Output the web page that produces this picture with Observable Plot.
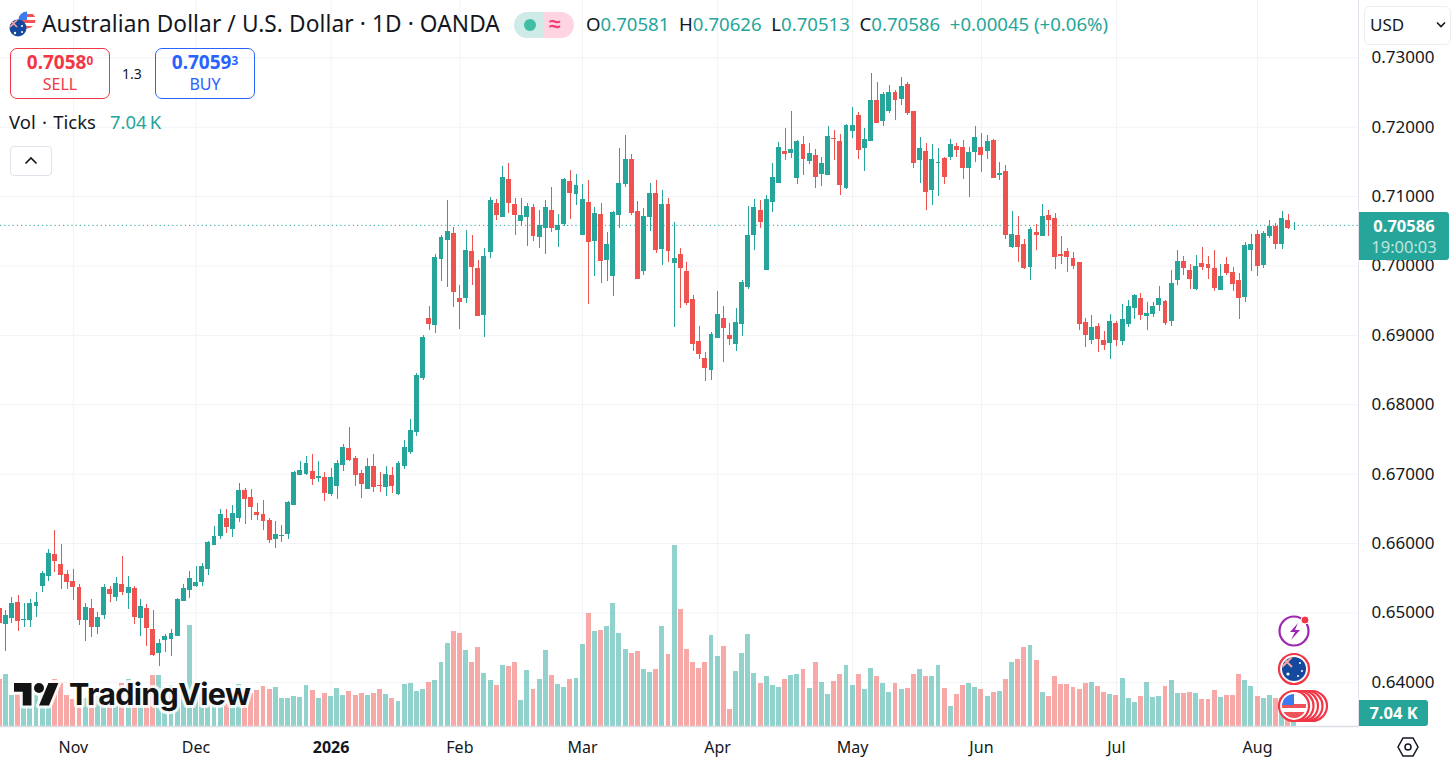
<!DOCTYPE html>
<html>
<head>
<meta charset="utf-8">
<script src="https://cdn.jsdelivr.net/npm/d3@7"></script>
<script src="https://cdn.jsdelivr.net/npm/@observablehq/plot@0.6"></script>
<style>
html,body{margin:0;padding:0;background:#fff;overflow:hidden;width:1454px;height:764px}
body{font-family:"Noto Sans",sans-serif;color:#131722;position:relative}
#chart{position:absolute;left:0;top:0}
#chart svg{display:block;max-width:none}
.a{position:absolute;white-space:nowrap;line-height:1}
.up{color:#26a69a}
sup{font-size:.62em;line-height:0;vertical-align:baseline;position:relative;top:-.35em}
</style>
</head>
<body>
<div id="chart"></div>

<svg class="a" style="left:9px;top:10px" width="28" height="28" viewBox="0 0 28 28">
  <defs><clipPath id="c1"><circle cx="18" cy="10" r="8.5"/></clipPath><clipPath id="c2"><circle cx="9" cy="18" r="8.5"/></clipPath></defs>
  <g clip-path="url(#c1)"><rect x="9" y="1" width="18" height="18" fill="#fff"/><rect x="9" y="4" width="18" height="3" fill="#f0525a"/><rect x="9" y="10" width="18" height="3" fill="#f0525a"/><rect x="9" y="16" width="18" height="3" fill="#f0525a"/><rect x="9" y="1" width="9" height="9" fill="#3a7bf0"/></g>
  <g clip-path="url(#c2)"><rect x="0" y="9" width="18" height="18" fill="#14499e"/><path d="M1 10l7 7M8 10l-7 7" stroke="#f6a5a5" stroke-width="1.6"/><circle cx="13" cy="16" r="1" fill="#fff"/><circle cx="6" cy="23" r="1.2" fill="#fff"/><circle cx="13" cy="22" r="1" fill="#fff"/></g>
</svg>
<div class="a" style="left:42px;top:13px;font-size:22.7px;letter-spacing:.1px">Australian Dollar / U.S. Dollar · 1D · OANDA</div>

<div class="a" style="left:514px;top:12px;width:30px;height:26px;background:#ceebe8;border-radius:13px 0 0 13px"></div>
<div class="a" style="left:544px;top:12px;width:30px;height:26px;background:#ffd5e2;border-radius:0 13px 13px 0"></div>
<div class="a" style="left:524px;top:19px;width:12px;height:12px;border-radius:6px;background:#3ebfa5"></div>
<div class="a" style="left:549px;top:13px;font-size:21px;color:#f23d7a;font-weight:700">≈</div>

<div class="a" style="left:586px;top:15px;font-size:18.6px" id="ohlc"></div>

<div class="a" style="left:10px;top:48px;width:98px;height:49px;border:1px solid #f23645;border-radius:7px;text-align:center;color:#f23645">
  <div style="font-size:19px;font-weight:700;margin-top:4px">0.7058<sup>0</sup></div>
  <div style="font-size:16px;margin-top:4px">SELL</div>
</div>
<div class="a" style="left:122px;top:67px;font-size:14px">1.3</div>
<div class="a" style="left:155px;top:48px;width:98px;height:49px;border:1px solid #2962ff;border-radius:7px;text-align:center;color:#2962ff">
  <div style="font-size:19px;font-weight:700;margin-top:4px">0.7059<sup>3</sup></div>
  <div style="font-size:16px;margin-top:4px">BUY</div>
</div>

<div class="a" style="left:9px;top:113px;font-size:18.5px;word-spacing:1.5px">Vol · Ticks</div>
<div class="a up" style="left:110px;top:113px;font-size:18.5px">7.04&#8201;K</div>

<div class="a" style="left:10px;top:146px;width:40px;height:28px;border:1px solid #e0e3eb;border-radius:4px"></div>
<svg class="a" style="left:24px;top:156px" width="14" height="9" viewBox="0 0 14 9"><path d="M1.5 7.5L7 2l5.5 5.5" fill="none" stroke="#131722" stroke-width="1.7"/></svg>

<div class="a" style="left:1364px;top:6px;width:85px;height:37px;border:1px solid #eceef3;border-radius:6px;background:#fff"></div>
<div class="a" style="left:1370px;top:16px;font-size:17px">USD</div>
<svg class="a" style="left:1436px;top:21px" width="10" height="7" viewBox="0 0 10 7"><path d="M1 1.5l4 4 4-4" fill="none" stroke="#131722" stroke-width="1.6"/></svg>

<div class="a" style="left:1359px;top:212px;width:90px;height:48px;background:#26a69a;border-radius:0 3px 3px 0;text-align:center;color:#fff">
  <div style="font-size:16.5px;font-weight:700;margin-top:6px">0.70586</div>
  <div style="font-size:16.5px;margin-top:4px;color:#bfe5e0">19:00:03</div>
</div>
<div class="a" style="left:1359px;top:700px;width:69px;height:26px;background:#26a69a;border-radius:0 3px 3px 0;text-align:center;color:#fff;font-size:16.5px;font-weight:700;line-height:26px">7.04 K</div>

<svg class="a" style="left:1396px;top:736px" width="24" height="22" viewBox="0 0 24 22"><path d="M7 2h10l5 9-5 9H7L2 11z" fill="none" stroke="#131722" stroke-width="1.5"/><circle cx="12" cy="11" r="3" fill="none" stroke="#131722" stroke-width="1.5"/></svg>

<svg class="a" style="left:0;top:670px;pointer-events:none" width="262" height="50" viewBox="0 0 262 50">
  <g stroke="#fff" stroke-opacity=".85" stroke-width="6" stroke-linejoin="round" fill="#fff">
    <path d="M31.5 35.5h-8.75V21.75H14V13h17.5zM49 35.5H39l9.4-22.5h10L49 35.5z"/><circle cx="39" cy="18" r="5"/>
    <text x="69" y="35" font-family="Inter,Roboto,sans-serif" font-size="30.5" font-weight="700" letter-spacing="-.7">TradingView</text>
  </g>
  <g fill="#131313">
    <path d="M31.5 35.5h-8.75V21.75H14V13h17.5zM49 35.5H39l9.4-22.5h10L49 35.5z"/><circle cx="39" cy="18" r="5"/>
    <text x="69" y="35" font-family="Inter,Roboto,sans-serif" font-size="30.5" font-weight="700" letter-spacing="-.7">TradingView</text>
  </g>
</svg>

<svg class="a" style="left:1276px;top:611px" width="56" height="113" viewBox="0 0 56 113">
  <circle cx="18" cy="20" r="14.5" fill="#fff" stroke="#9c27b0" stroke-width="2.2"/>
  <path d="M22 12l-8 9h5l-4 8 9-10h-5l3-7z" fill="#9c27b0"/>
  <circle cx="29" cy="9" r="4" fill="#f23645" stroke="#fff" stroke-width="1"/>
  <defs><clipPath id="c3"><circle cx="18" cy="58" r="12"/></clipPath><clipPath id="c4"><circle cx="18" cy="95" r="12"/></clipPath></defs>
  <circle cx="18" cy="58" r="15" fill="#fff" stroke="#f23645" stroke-width="2.2"/>
  <g clip-path="url(#c3)"><rect x="6" y="46" width="24" height="24" fill="#14499e"/><path d="M6 46l10 10M16 46L6 56" stroke="#f6a5a5" stroke-width="2"/><circle cx="24" cy="52" r="1" fill="#fff"/><circle cx="26" cy="60" r="1" fill="#fff"/><circle cx="22" cy="65" r="1" fill="#fff"/><circle cx="12" cy="63" r="1.6" fill="#fff"/></g>
  <circle cx="36" cy="95" r="15" fill="#fff" stroke="#f23645" stroke-width="2.2"/>
  <circle cx="31.5" cy="95" r="15" fill="#fff" stroke="#f23645" stroke-width="2.2"/>
  <circle cx="27" cy="95" r="15" fill="#fff" stroke="#f23645" stroke-width="2.2"/>
  <circle cx="22.5" cy="95" r="15" fill="#fff" stroke="#f23645" stroke-width="2.2"/>
  <circle cx="18" cy="95" r="15" fill="#fff" stroke="#f23645" stroke-width="2.2"/>
  <g clip-path="url(#c4)"><rect x="6" y="83" width="24" height="24" fill="#fff"/><rect x="6" y="93" width="24" height="4" fill="#f0525a"/><rect x="6" y="101" width="24" height="6" fill="#f0525a"/><rect x="6" y="83" width="12" height="11" fill="#3a7bf0"/></g>
</svg>

<script>
const opens = [
.65061,.64835,.64917,.65147,.64888,.64888,.65090,.65378,.65522,.65838,
.65694,.65550,.65450,.65363,.64888,.65061,.64787,.64960,.65334,.65219,
.65406,.65277,.65349,.64917,.65061,.64758,.64413,.64600,.64614,.64658,
.65162,.65320,.65387,.65435,.65622,.65968,.66098,.66357,.66198,.66357,
.66768,.66667,.66451,.66422,.66336,.66062,.66106,.66134,.66549,.66981,
.66995,.67039,.66938,.66952,.66707,.66823,.67125,.67370,.67226,.67010,
.66779,.67111,.66837,.66808,.66981,.66707,.67111,.67312,.67600,.68378,
.69242,.69141,.70091,.70365,.70466,.69530,.69530,.70207,.69962,.69285,
.70192,.70898,.70696,.71243,.70883,.70639,.70696,.70840,.70408,.70538,
.70797,.70509,.70595,.71215,.71027,.70437,.70912,.70351,.70739,.70077,
.69847,.70725,.71171,.71531,.70783,.69919,.70696,.71042,.70235,.70883,
.70034,.70163,.69919,.69515,.68911,.68666,.68493,.68954,.69242,.68997,
.68867,.69155,.69688,.70437,.70797,.69933,.70912,.71186,.71647,.71618,
.71258,.71747,.71503,.71589,.71315,.71301,.71834,.71791,.71114,.71935,
.72165,.71690,.71791,.72381,.72079,.72223,.72496,.72395,.72611,.72223,
.71517,.71647,.71085,.71474,.71546,.71560,.71719,.71704,.71402,.71632,
.71704,.71647,.71805,.71301,.71359,.70269,.70442,.70312,.69981,.70485,
.70428,.70730,.70687,.70168,.70212,.70111,.70053,.69189,.68930,.69132,
.68930,.68887,.69175,.68916,.69160,.69391,.69535,.69276,.69304,.69434,
.69492,.69204,.69794,.70068,.69938,.69664,.70039,.70024,.69967,.69650,
.70024,.69909,.69794,.69549,.70226,.70456,.70010,.70428,.70572,.70312,
.70658,.70581];
const closes = [
.64850,.64960,.65133,.64874,.64902,.65133,.65147,.65565,.65853,.65738,
.65536,.65435,.65363,.64888,.65075,.64787,.64931,.65363,.65262,.65421,
.65291,.65363,.64931,.65090,.64773,.64384,.64557,.64658,.64701,.65190,
.65349,.65493,.65435,.65666,.66011,.66098,.66414,.66227,.66429,.66760,
.66638,.66523,.66408,.66322,.66048,.66134,.66120,.66595,.67024,.67053,
.67154,.66923,.66967,.66722,.66952,.67154,.67384,.67197,.66981,.66851,
.67111,.66808,.66823,.66995,.66823,.67154,.67384,.67629,.68421,.68968,
.69155,.70120,.70408,.70495,.69616,.69472,.70221,.69976,.69271,.70135,
.70941,.70725,.71272,.70898,.70725,.70725,.70855,.70423,.70581,.70840,
.70538,.70581,.71243,.71042,.71157,.70955,.70336,.70754,.70063,.70307,
.70768,.71186,.71531,.70754,.69803,.70711,.71042,.70221,.70883,.70207,
.70106,.69962,.69458,.68867,.68723,.68522,.69011,.69299,.69098,.68939,
.69184,.69760,.70437,.70840,.70624,.70955,.71272,.71704,.71603,.71675,
.71791,.71531,.71618,.71272,.71474,.71863,.71819,.71157,.72021,.72021,
.71661,.71819,.72381,.72050,.72467,.72496,.72381,.72583,.72194,.71474,
.71690,.71056,.71531,.71488,.71272,.71747,.71661,.71402,.71632,.71848,
.71589,.71791,.71258,.71330,.70437,.70456,.70269,.69967,.70528,.70442,
.70716,.70658,.70125,.70140,.70125,.69996,.69160,.69002,.69117,.68944,
.68858,.69204,.68930,.69232,.69420,.69578,.69290,.69319,.69420,.69535,
.69175,.69751,.70068,.69967,.69808,.69996,.69981,.69967,.69679,.69852,
.69895,.69736,.69535,.70298,.70312,.69996,.70471,.70572,.70312,.70687,
.70541,.70586];
const highs = [
.65120,.65032,.65219,.65248,.65133,.65190,.65291,.65594,.65910,.66184,
.65982,.65608,.65622,.65406,.65133,.65190,.65003,.65406,.65378,.65507,
.65810,.65522,.65378,.65190,.65118,.65032,.64614,.64686,.64758,.65205,
.65406,.65594,.65666,.65709,.66026,.66242,.66486,.66486,.66544,.66861,
.66797,.66782,.66581,.66624,.66365,.66322,.66264,.66610,.67039,.67183,
.67255,.67283,.67183,.67024,.67082,.67197,.67427,.67672,.67255,.67053,
.67226,.67283,.67024,.67111,.67096,.67183,.67485,.67787,.68450,.68997,
.69415,.70163,.70437,.70941,.70552,.69717,.70509,.70437,.70077,.70250,
.70984,.70955,.71431,.71474,.70970,.70970,.70898,.70883,.70797,.70941,
.71128,.70739,.71258,.71373,.71315,.71171,.71229,.70840,.70898,.70480,
.70783,.71690,.71877,.71603,.70927,.70826,.71186,.71229,.71085,.70970,
.70624,.70250,.70048,.69573,.69127,.68752,.69040,.69631,.69415,.69170,
.69386,.69789,.70855,.70955,.70941,.71013,.71474,.71776,.71978,.72223,
.71805,.71863,.71762,.71675,.71560,.72007,.71949,.71891,.72035,.72280,
.72208,.71978,.72770,.72640,.72496,.72597,.72525,.72712,.72640,.72223,
.71848,.71762,.71747,.71690,.71560,.71819,.71762,.71805,.71704,.72007,
.71906,.71877,.71819,.71488,.71445,.70788,.70716,.70384,.70557,.70600,
.70888,.70802,.70759,.70428,.70255,.70197,.70053,.69247,.69290,.69175,
.69060,.69304,.69204,.69448,.69506,.69592,.69607,.69477,.69477,.69708,
.69506,.69938,.70226,.70140,.70024,.70154,.70269,.70140,.70226,.70024,
.70125,.69981,.69895,.70341,.70456,.70514,.70500,.70658,.70615,.70788,
.70744,.70626];
const lows = [
.64780,.64446,.64850,.64734,.64792,.64792,.64931,.65291,.65450,.65579,
.65334,.65334,.65176,.64816,.64586,.64643,.64686,.64902,.65147,.65162,
.65248,.65046,.64830,.64658,.64514,.64370,.64226,.64427,.64370,.64658,
.65162,.65205,.65363,.65378,.65536,.65968,.66054,.66141,.66083,.66299,
.66278,.66336,.66336,.66192,.66005,.65933,.66019,.66062,.66549,.66981,
.66981,.66837,.66880,.66607,.66679,.66635,.67039,.67183,.66823,.66650,
.66779,.66736,.66736,.66679,.66722,.66693,.67067,.67283,.67543,.68349,
.69069,.69026,.69775,.69688,.69400,.69083,.69458,.69717,.69271,.68968,
.70106,.70653,.70696,.70754,.70437,.70567,.70279,.70351,.70250,.70163,
.70480,.70264,.70567,.70667,.70869,.70437,.69443,.69847,.69746,.69775,
.69559,.70538,.71128,.70725,.69803,.69861,.70495,.70178,.70005,.70048,
.69112,.69386,.69429,.68767,.68651,.68335,.68349,.68954,.68608,.68853,
.68767,.68983,.69659,.70221,.70538,.69933,.70768,.71186,.71517,.71546,
.71171,.71301,.71459,.71114,.71143,.71301,.71517,.71013,.71099,.71834,
.71531,.71359,.71791,.72050,.72007,.72194,.72093,.72309,.72165,.71402,
.71186,.70797,.70869,.70999,.71171,.71517,.71560,.71243,.70984,.71488,
.71344,.71531,.71258,.71229,.70379,.70255,.70053,.69952,.69794,.70226,
.70428,.70428,.69952,.70024,.69909,.69952,.69074,.68829,.68872,.68757,
.68786,.68656,.68844,.68858,.69117,.69232,.69218,.69074,.69261,.69348,
.69146,.69132,.69722,.69866,.69664,.69650,.69938,.69808,.69636,.69650,
.69866,.69636,.69232,.69477,.69924,.69852,.69967,.70399,.70240,.70240,
.70528,.70513];
// volume in thousands of ticks
const volumes = [
25.4,28.1,16.7,17.3,18,17,17.5,17,17,25.4,
23.2,16.7,14.6,15,15,15,16,16,15,17,
23,25.4,16,17,18,27.5,27.5,21,22,20,
20,54.5,20,20,18,18,18,18,18,22.5,
20,18,19.4,21.6,20,21,15.1,15.1,16.2,15.7,
22.1,19.4,15.1,17.8,16.2,20.5,16.7,18.9,16.7,17.8,
16.7,17.8,20,17.3,15.1,13.5,22.7,23.2,18.9,20,
23.8,24.8,34.6,44.8,51.3,50.2,41,34.6,42.7,28.6,
24.8,22.1,32.9,32.4,34.6,14,30.2,20,25.4,41,
27.5,22.7,21.1,25.4,25.9,44.3,61,51.3,51.8,54,
66.4,50.2,41.6,39.4,40.5,30.8,29.2,30.8,54,38.9,
97.7,63.2,41.6,34.6,31.3,34.6,49.1,37.8,43.2,9.2,
29.7,39.4,49.7,28.6,23.2,27,22.1,21.1,25.4,27.5,
28.1,30.8,20.5,34.6,23.8,17.3,24.3,28.1,32.9,22.1,
28.1,20,31.3,27,23.2,18.4,23.2,20,20.5,28.1,
30.8,27,27,32.9,20.5,10.8,17.3,22.1,23.2,21.1,
20,16.2,18.4,18.9,25.4,34.6,36.2,42.7,43.7,35.6,
18.4,16.2,27,22.7,22.7,21.1,20,23.2,23.8,21.6,
18.4,17.3,16.7,25.9,15.1,13,16.2,23.8,15.7,16.2,
21.6,24.8,17.8,17.8,18.4,17.8,14.6,14.6,19.4,15.7,
16.7,16.7,28.1,24.8,21.6,16.2,15.1,16.7,15.1,15,
14,7.04];

const monthBars = [12,32,75,95,117,139,160,182,205];
const monthNames = ["Nov","Dec","Feb","Mar","Apr","May","Jun","Jul","Aug"];
const yearBars = [54];
const yearNames = ["2026"];
const priceTicks = [.64,.65,.66,.67,.68,.69,.70,.71,.72,.73];
const lastPrice = .70586;

const FONT = '"Noto Sans",sans-serif';
const priceFloor = .63364;       // price at the foot of the pane, where volume is zero
const pricePerK = .0002668;      // volume pane shares the y scale
const volTop = v => priceFloor + v * pricePerK;

const bars = opens.map((o,i)=>({i,o,h:highs[i],l:lows[i],c:closes[i],v:volumes[i],dir:closes[i]>=o?"up":"down"}));
const halfBar = .4;

const chart = Plot.plot({
  width:1454, height:764,
  marginLeft:0, marginRight:96, marginTop:0, marginBottom:38,
  style:{fontFamily:FONT, background:"#fff", color:"#131722"},
  x:{type:"linear", domain:[.1304,221.45]},
  y:{type:"linear", domain:[priceFloor,.73826]},
  color:{domain:["up","down"], range:["#26a69a","#ef5350"]},
  marks:[
    Plot.ruleY(priceTicks,{stroke:"#f2f3f6"}),
    Plot.ruleX([...monthBars,...yearBars],{stroke:"#f2f3f6"}),
    Plot.rect(bars,{x1:d=>d.i-halfBar,x2:d=>d.i+halfBar,y1:priceFloor,y2:d=>volTop(d.v),fill:"dir",fillOpacity:.5,shapeRendering:"crispEdges",clip:true}),
    Plot.ruleY([lastPrice],{stroke:"#26a69a",strokeDasharray:"1.2 3"}),
    Plot.ruleX(bars,{x:"i",y1:"l",y2:"h",stroke:"dir",strokeWidth:1,shapeRendering:"crispEdges",clip:true}),
    Plot.rect(bars,{x1:d=>d.i-halfBar,x2:d=>d.i+halfBar,y1:d=>Math.min(d.o,d.c),y2:d=>Math.max(d.o,d.c),fill:"dir",shapeRendering:"crispEdges",clip:true}),
    Plot.frame({anchor:"bottom",stroke:"#dcdee3",strokeWidth:1.5}),
    Plot.frame({anchor:"right",stroke:"#e0e3eb",strokeWidth:1}),
    Plot.axisY(priceTicks,{anchor:"right",tickSize:0,tickPadding:13,tickFormat:d3.format(".5f"),fontSize:17,fill:"#131722",label:null}),
    Plot.axisX(monthBars,{anchor:"bottom",tickSize:0,tickPadding:15,tickFormat:(d,i)=>monthNames[monthBars.indexOf(d)],fontSize:16,fill:"#131722",label:null}),
    Plot.axisX(yearBars,{anchor:"bottom",tickSize:0,tickPadding:15,tickFormat:(d,i)=>yearNames[yearBars.indexOf(d)],fontSize:16,fontWeight:700,fill:"#131722",label:null})
  ]
});
document.getElementById("chart").appendChild(chart);

const g = s => `<span class="up">${s}</span>`;
const last = bars[bars.length-1];
const f = d3.format(".5f");
document.getElementById("ohlc").innerHTML =
  `O${g(f(last.o))}&nbsp; H${g(f(last.h))}&nbsp; L${g(f(last.l))}&nbsp; C${g(f(last.c))}&nbsp; ${g("+0.00045 (+0.06%)")}`;
</script>
</body>
</html>
